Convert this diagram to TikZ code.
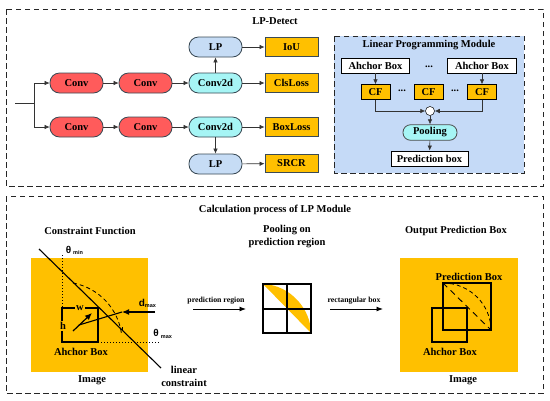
\documentclass[tikz,border=0pt]{standalone}
\usepackage{fontspec}
\setmainfont{Liberation Serif}
\newfontfamily\dejavu{Liberation Sans}
\usetikzlibrary{arrows.meta}
\definecolor{org}{HTML}{FFC000}
\definecolor{redb}{HTML}{FF5B5B}
\definecolor{cyanb}{HTML}{A6F5F5}
\definecolor{lpb}{HTML}{C6DCF5}
\definecolor{panel}{HTML}{C5DAF7}
\definecolor{edge}{HTML}{3A4A55}
\tikzset{
 x=1pt,y=-1pt,
 lab/.style={font=\bfseries\fontsize{10.5}{12}\selectfont,text=black,inner sep=0pt,align=center},
 pill/.style={rounded corners=9.5pt,draw=edge,line width=0.8pt,font=\bfseries\fontsize{10.5}{12}\selectfont,inner sep=0pt,minimum width=53pt,minimum height=20pt},
 conv/.style={pill,fill=redb},
 convd/.style={pill,fill=cyanb},
 lpn/.style={pill,fill=lpb},
 outbox/.style={draw=edge,line width=0.9pt,fill=org,font=\bfseries\fontsize{10.5}{12}\selectfont,inner sep=0pt,minimum width=53pt,minimum height=18.5pt},
 wbox/.style={draw=black,line width=0.9pt,fill=white,font=\bfseries\fontsize{10.5}{12}\selectfont,inner sep=0pt,minimum height=15pt},
 cfb/.style={draw=black,line width=0.9pt,fill=org,font=\bfseries\fontsize{10.5}{12}\selectfont,inner sep=0pt,minimum width=29pt,minimum height=14.5pt},
 arr/.style={-{Latex[length=5pt,width=4.5pt]},line width=0.6pt,draw=black!80},
 bigarr/.style={-{Latex[length=6.5pt,width=5pt]},line width=0.9pt,draw=black},
 dashbox/.style={draw=black!85,line width=0.8pt,dash pattern=on 5.5pt off 3.5pt},
 thick1/.style={line width=1.1pt,draw=black},
 sansbig/.style={font=\dejavu\bfseries\fontsize{10}{12}\selectfont,inner sep=0pt},
 sanssmall/.style={font=\dejavu\bfseries\fontsize{5.5}{6}\selectfont,inner sep=0pt},
 small/.style={lab,font=\bfseries\fontsize{7.8}{9}\selectfont},
}
\begin{document}
\begin{tikzpicture}
\useasboundingbox (0,0) rectangle (550,400);
\fill[white] (0,0) rectangle (550,400);
\draw[dashbox] (6,9) rectangle (543,186);
\draw[dashbox] (6,196) rectangle (543,393);
\node[lab] (title1) at (275,21) {LP-Detect};
\node[lab] (title2) at (275,209.5) {Calculation process of LP Module};
% top left
\coordinate (in) at (15,103);
\coordinate (br) at (34,103);
\node[conv] (c1) at (76.5,83) {Conv};
\node[conv] (c2) at (145.5,83) {Conv};
\node[convd] (d1) at (215.5,83) {Conv2d};
\node[lpn] (l1) at (215.5,47) {LP};
\node[outbox] (o1) at (291.5,47) {IoU};
\node[outbox] (o2) at (291.5,83) {ClsLoss};
\node[conv] (c3) at (76.5,127) {Conv};
\node[conv] (c4) at (145.5,127) {Conv};
\node[convd] (d2) at (215.5,127) {Conv2d};
\node[lpn] (l2) at (215.5,164) {LP};
\node[outbox] (o3) at (291.5,127) {BoxLoss};
\node[outbox] (o4) at (291.5,163.5) {SRCR};
\draw[line width=0.6pt,draw=black!80] (in) -- (br);
\draw[arr] (br) |- (c1);
\draw[arr] (br) |- (c3);
\draw[arr] (c1) -- (c2);
\draw[arr] (c2) -- (d1);
\draw[arr] (c3) -- (c4);
\draw[arr] (c4) -- (d2);
\draw[arr] (d1) -- (l1);
\draw[arr] (d2) -- (l2);
\draw[arr] (l1) -- (o1);
\draw[arr] (d1) -- (o2);
\draw[arr] (d2) -- (o3);
\draw[arr] (l2) -- (o4);
% panel
\draw[dashbox,fill=panel] (334,36) rectangle (524,173);
\node[lab] (pt) at (429,45.5) {Linear Programming Module};
\node[wbox,minimum width=68.5pt] (a1) at (375.5,65.5) {Ahchor Box};
\node[wbox,minimum width=68.5pt] (a2) at (482,65.5) {Ahchor Box};
\node[cfb] (f1) at (375.5,92) {CF};
\node[cfb] (f2) at (428.5,92) {CF};
\node[cfb] (f3) at (482,92) {CF};
\node[lab] (e1) at (429,67) {...};
\node[lab] (e2) at (402,91) {...};
\node[lab] (e3) at (455,91) {...};
\node[draw=black,fill=white,line width=0.5pt,circle,minimum size=9pt,inner sep=0pt] (cc) at (430,111) {};
\node[convd,minimum width=54pt,minimum height=15.5pt,rounded corners=7.5pt,draw=black!70] (pl) at (430,132.5) {Pooling};
\node[wbox,minimum width=77pt] (pb) at (429.5,158.5) {Prediction box};
\draw[arr] (a1) -- (f1);
\draw[arr] (a2) -- (f3);
\draw[arr] (f1) |- (cc);
\draw[arr] (f3) |- (cc);
\draw[arr] (cc) -- (pl);
\draw[arr] (pl) -- (pb);
% bottom left
\node[lab] (h1) at (90,230.5) {Constraint Function};
\fill[org] (31,258) rectangle (148,372);
\draw[thick1] (39,249) -- (161,368);
\draw[line width=1pt,dotted] (62,255) -- (62,308);
\draw[line width=1pt,dotted] (98,342) -- (160,342);
\draw[thick1] (62,308) rectangle (98,342);
\draw[line width=0.8pt,dash pattern=on 4pt off 3pt] (73,283) arc[start angle=-79.5,end angle=-7,radius=60];
\draw[line width=0.8pt,dash pattern=on 4pt off 3pt] (122,331) -- (122,325);
\draw[line width=1.2pt,-{Latex[length=7pt,width=6pt]}] (73,331) -- (92,313);
\draw[line width=1.1pt] (79,325) -- (122,312);
\draw[line width=1.1pt,-{Latex[length=7pt,width=6pt]}] (155,312) -- (122,312);
\node[lab,fill=org,inner xsep=1.5pt,inner ysep=0pt] (w) at (80,308) {w};
\node[lab,fill=org,inner xsep=0pt,inner ysep=1pt] (h) at (63,326) {h};
\node[lab] (ab1) at (81,352) {Ahchor Box};
\node[lab] (im1) at (92,380.5) {Image};
\node[sansbig] (thmin) at (68.5,250) {θ};
\node[sanssmall] (minl) at (78,253) {min};
\node[sansbig] (thmax) at (156,333) {θ};
\node[sanssmall] (maxl) at (166.5,337.5) {max};
\node[sansbig] (dm) at (142,303) {d};
\node[sanssmall] (dml) at (150.5,306) {max};
\node[lab,font=\bfseries\fontsize{10.5}{13}\selectfont] (lc) at (184,376) {linear\\constraint};
% middle
\node[lab,font=\bfseries\fontsize{10.5}{13}\selectfont] (h2) at (287,236.5) {Pooling on\\prediction region};
\node[small] (pr) at (216,301) {prediction region};
\node[small] (rb) at (354,301) {rectangular box};
\coordinate (a0) at (193,309);
\coordinate (a3) at (383,309);
\coordinate (g1) at (263,309);
\coordinate (g2) at (311,309);
\draw[bigarr] (a0) -- (246,309);
\draw[bigarr] (330,309) -- (a3);
\fill[org] (263,284) -- (311,333) .. controls (311,310) and (291,285) .. (263,284) -- cycle;
\draw[line width=1.1pt] (263,284) rectangle (311,333);
\draw[line width=1.1pt] (g1) -- (g2);
\draw[line width=1.1pt] (287,284) -- (287,333);
% right
\node[lab] (h3) at (456,230.5) {Output Prediction Box};
\fill[org] (400,258) rectangle (518,372);
\draw[thick1] (443,283) rectangle (491,330);
\draw[thick1] (432,308) rectangle (467,342);
\draw[line width=0.9pt,dash pattern=on 6pt off 4.5pt] (443,283) -- (491,330);
\draw[line width=0.8pt,dash pattern=on 4pt off 3pt] (443,283) .. controls (470,283) and (491,305) .. (491,330);
\node[lab] (pb2) at (469,276.5) {Prediction Box};
\node[lab] (ab2) at (450,352) {Ahchor Box};
\node[lab] (im2) at (463,380.5) {Image};
\end{tikzpicture}
\end{document}
